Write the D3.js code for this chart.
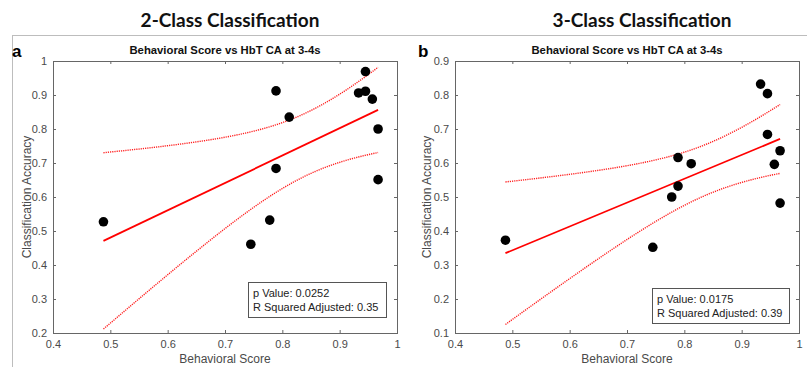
<!DOCTYPE html>
<html>
<head>
<meta charset="utf-8">
<script src="https://cdn.jsdelivr.net/npm/d3@7"></script>
<style>
  body { margin: 0; background: #fff; }
  text { font-family: "Liberation Sans", Arial, sans-serif; }
</style>
</head>
<body>
<script>
// behavioral score is shared by both panels
var score = [0.488, 0.745, 0.778, 0.789, 0.789, 0.812, 0.933, 0.945, 0.945, 0.957, 0.967, 0.967];
var acc2 = [0.527, 0.461, 0.532, 0.912, 0.684, 0.835, 0.906, 0.969, 0.911, 0.888, 0.800, 0.651];
var acc3 = [0.373, 0.352, 0.500, 0.616, 0.532, 0.598, 0.832, 0.804, 0.684, 0.596, 0.636, 0.482];

var xTicks = [0.4, 0.5, 0.6, 0.7, 0.8, 0.9, 1];
var yTicks2 = [0.2, 0.3, 0.4, 0.5, 0.6, 0.7, 0.8, 0.9, 1];
var yTicks3 = [0.1, 0.2, 0.3, 0.4, 0.5, 0.6, 0.7, 0.8, 0.9];

var headers = ["2-Class Classification", "3-Class Classification"];
var letters = ["a", "b"];
var subTitle = "Behavioral Score vs HbT CA at 3-4s";
var stats2 = ["p Value: 0.0252", "R Squared Adjusted: 0.35"];
var stats3 = ["p Value: 0.0175", "R Squared Adjusted: 0.39"];

var tCrit = 2.228; // t(0.975, df = 10)

var W = 807, H = 367;
var svg = d3.select("body").append("svg")
    .attr("width", W)
    .attr("height", H);

// light frame lines around the figure
svg.append("line").attr("x1", 12).attr("x2", W).attr("y1", 35.5).attr("y2", 35.5)
    .attr("stroke", "#bdbdbd").attr("stroke-width", 1);
svg.append("line").attr("x1", 12.5).attr("x2", 12.5).attr("y1", 35).attr("y2", H)
    .attr("stroke", "#bdbdbd").attr("stroke-width", 1);

// simple least squares fit
function linFit(xs, ys) {
    var n = xs.length;
    var mx = d3.mean(xs), my = d3.mean(ys);
    var sxx = d3.sum(xs, function(d) { return (d - mx) * (d - mx); });
    var sxy = d3.sum(xs, function(d, i) { return (d - mx) * (ys[i] - my); });
    var b = sxy / sxx, a = my - b * mx;
    var sse = d3.sum(xs, function(d, i) { var r = ys[i] - (a + b * d); return r * r; });
    var s = Math.sqrt(sse / (n - 2));
    return {a: a, b: b, mx: mx, sxx: sxx, s: s, n: n};
}

function drawPanel(p) {
    var g = svg.append("g");

    var x = d3.scaleLinear().domain([0.4, 1]).range([p.left, p.right]);
    var y = d3.scaleLinear().domain(p.yDomain).range([333, 61]);

    // header
    g.append("text")
        .attr("x", p.headerX).attr("y", 27)
        .attr("text-anchor", "middle")
        .style("font-family", "Lato, 'Open Sans', sans-serif")
        .style("font-weight", 700)
        .style("font-size", "19px")
        .attr("fill", "#111")
        .text(p.header);

    g.append("text")
        .attr("x", p.letterX).attr("y", 57)
        .style("font-family", "'Liberation Sans', Arial, sans-serif")
        .style("font-weight", 700)
        .style("font-size", "17px")
        .attr("fill", "#000")
        .text(p.letter);

    g.append("text")
        .attr("x", (p.left + p.right) / 2).attr("y", 54)
        .attr("text-anchor", "middle")
        .style("font-weight", 700)
        .style("font-size", "11.3px")
        .attr("fill", "#111")
        .text(subTitle);

    var fmt = function(d) { return String(+d.toFixed(1)); };

    var xAxis = g.append("g").attr("transform", "translate(0,333)")
        .call(d3.axisBottom(x).tickValues(xTicks).tickFormat(fmt).tickSize(-3).tickPadding(7));
    var xTop = g.append("g").attr("transform", "translate(0,61)")
        .call(d3.axisTop(x).tickValues(xTicks).tickFormat("").tickSize(-3));
    var yAxis = g.append("g").attr("transform", "translate(" + p.left + ",0)")
        .call(d3.axisLeft(y).tickValues(p.yTicks).tickFormat(fmt).tickSize(-3).tickPadding(6));
    var yRight = g.append("g").attr("transform", "translate(" + p.right + ",0)")
        .call(d3.axisRight(y).tickValues(p.yTicks).tickFormat("").tickSize(-3));

    [xAxis, xTop, yAxis, yRight].forEach(function(a) {
        a.select(".domain").remove();
        a.selectAll(".tick line").attr("stroke", "#666");
        a.selectAll(".tick text")
            .attr("fill", "#4a4a4a")
            .style("font-size", "11px")
            .style("font-family", "'Liberation Sans', Arial, sans-serif");
    });

    g.append("rect")
        .attr("x", p.left + 0.5).attr("y", 61.5)
        .attr("width", p.right - p.left).attr("height", 333 - 61)
        .attr("fill", "none").attr("stroke", "#666").attr("stroke-width", 1);

    // axis labels
    g.append("text")
        .attr("x", (p.left + p.right) / 2).attr("y", 363)
        .attr("text-anchor", "middle")
        .style("font-size", "12px")
        .attr("fill", "#4a4a4a")
        .text("Behavioral Score");

    g.append("text")
        .attr("transform", "translate(" + p.yLabelX + "," + 197 + ") rotate(-90)")
        .attr("text-anchor", "middle")
        .style("font-size", "12px")
        .attr("fill", "#4a4a4a")
        .text("Classification Accuracy");

    // fit and confidence bounds
    var f = linFit(score, p.acc);
    var lo = d3.min(score), hi = d3.max(score);
    var grid = d3.range(lo, hi + 1e-9, (hi - lo) / 60);
    var half = function(v) {
        return tCrit * f.s * Math.sqrt(1 / f.n + (v - f.mx) * (v - f.mx) / f.sxx);
    };

    var upper = d3.line().x(function(d) { return x(d); })
        .y(function(d) { return y(f.a + f.b * d + half(d)); });
    var lower = d3.line().x(function(d) { return x(d); })
        .y(function(d) { return y(f.a + f.b * d - half(d)); });

    g.append("path").datum(grid).attr("d", upper)
        .attr("fill", "none").attr("stroke", "#ff2020").attr("stroke-width", 1.4)
        .attr("stroke-dasharray", "1.2,1");
    g.append("path").datum(grid).attr("d", lower)
        .attr("fill", "none").attr("stroke", "#ff2020").attr("stroke-width", 1.4)
        .attr("stroke-dasharray", "1.2,1");

    g.append("line")
        .attr("x1", x(lo)).attr("y1", y(f.a + f.b * lo))
        .attr("x2", x(hi)).attr("y2", y(f.a + f.b * hi))
        .attr("stroke", "#ff0000").attr("stroke-width", 1.8);

    // data points
    g.selectAll("circle.pt")
        .data(score)
        .enter().append("circle")
        .attr("class", "pt")
        .attr("cx", function(d) { return x(d); })
        .attr("cy", function(d, i) { return y(p.acc[i]); })
        .attr("r", 4.8)
        .attr("fill", "#000");

    // stats box
    g.append("rect")
        .attr("x", p.boxX + 0.5).attr("y", p.boxY + 0.5)
        .attr("width", p.boxW).attr("height", 35)
        .attr("fill", "#fff").attr("stroke", "#555").attr("stroke-width", 1);

    g.selectAll("text.stat")
        .data(p.stats)
        .enter().append("text")
        .attr("class", "stat")
        .attr("x", p.boxX + 5)
        .attr("y", function(d, i) { return p.boxY + 15 + i * 14; })
        .style("font-size", "11px")
        .attr("fill", "#222")
        .text(function(d) { return d; });
}

drawPanel({
    left: 53, right: 397, yDomain: [0.2, 1], yTicks: yTicks2, acc: acc2,
    header: headers[0], headerX: 230, letter: letters[0], letterX: 12,
    yLabelX: 31, stats: stats2, boxX: 248, boxY: 282, boxW: 138
});

drawPanel({
    left: 455, right: 799, yDomain: [0.1, 0.9], yTicks: yTicks3, acc: acc3,
    header: headers[1], headerX: 642, letter: letters[1], letterX: 418,
    yLabelX: 431, stats: stats3, boxX: 652, boxY: 288, boxW: 137
});
</script>
</body>
</html>
